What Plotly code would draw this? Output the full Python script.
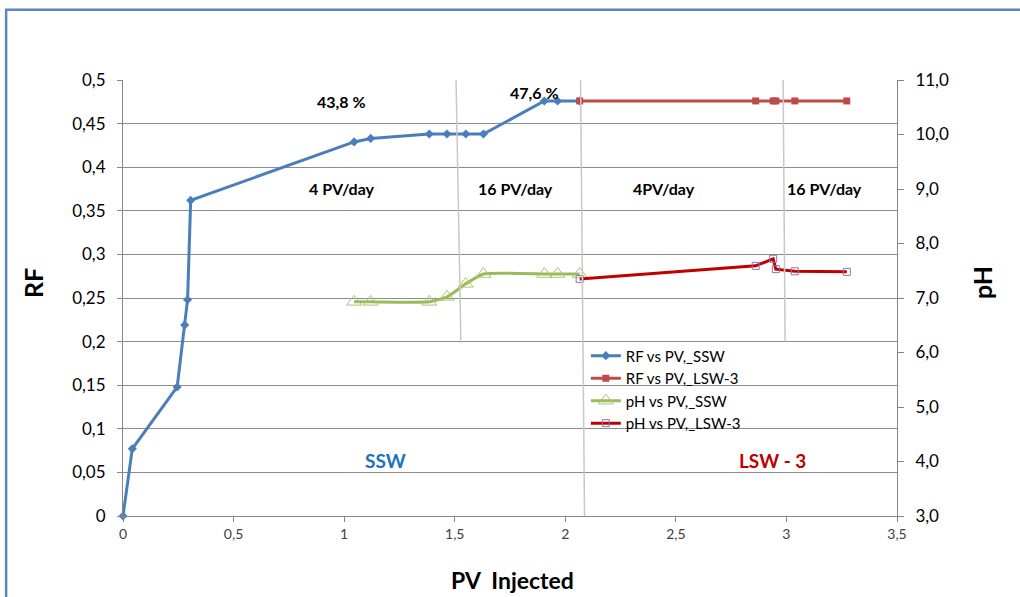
import plotly.graph_objects as go

# PV injected vs recovery factor (RF) and effluent pH, SSW then LSW-3 flooding
pv_ssw = [0, 0.042, 0.245, 0.279, 0.292, 0.306, 1.045, 1.12, 1.385, 1.465, 1.55, 1.63, 1.905, 1.965, 2.065]
rf_ssw = [0, 0.077, 0.148, 0.219, 0.248, 0.362, 0.429, 0.433, 0.438, 0.438, 0.438, 0.438, 0.476, 0.476, 0.476]

pv_lsw = [2.065, 2.861, 2.94, 2.952, 3.038, 3.273]
rf_lsw = [0.476, 0.476, 0.476, 0.476, 0.476, 0.476]

pv_ph_ssw = [1.045, 1.12, 1.385, 1.465, 1.55, 1.63, 1.905, 1.965, 2.065]
ph_ssw = [6.93, 6.93, 6.93, 7.02, 7.26, 7.44, 7.44, 7.44, 7.44]

pv_ph_lsw = [2.065, 2.861, 2.94, 2.952, 3.038, 3.273]
ph_lsw = [7.35, 7.59, 7.72, 7.53, 7.49, 7.48]

rf_ticks = [0, 0.05, 0.1, 0.15, 0.2, 0.25, 0.3, 0.35, 0.4, 0.45, 0.5]
rf_tick_text = ["0", "0,05", "0,1", "0,15", "0,2", "0,25", "0,3", "0,35", "0,4", "0,45", "0,5"]
ph_ticks = [3, 4, 5, 6, 7, 8, 9, 10, 11]
ph_tick_text = ["3,0", "4,0", "5,0", "6,0", "7,0", "8,0", "9,0", "10,0", "11,0"]
pv_ticks = [0, 0.5, 1, 1.5, 2, 2.5, 3, 3.5]
pv_tick_text = ["0", "0,5", "1", "1,5", "2", "2,5", "3", "3,5"]

# injection-rate stage boundaries (PV), drawn as thin slanted guide lines
stage_lines = [(1.506, 1.528, 0.198), (2.069, 2.087, 0.0), (2.985, 2.994, 0.2)]
rate_labels = [(0.99, "4 PV/day"), (1.777, "16 PV/day"), (2.446, "4PV/day"), (3.174, "16 PV/day")]

FONT = "Lato, 'Open Sans', sans-serif"
BLUE = "#4a7ebb"
RED = "#be4b48"
GREEN = "#9bbb59"
DARKRED = "#c00000"


def pct(v):
    return f"{v * 100:.1f}".replace(".", ",") + " %"


fig = go.Figure()
fig.add_trace(go.Scatter(
    x=pv_ssw, y=rf_ssw, name="RF vs PV,_SSW", mode="lines+markers",
    line=dict(color=BLUE, width=3),
    marker=dict(symbol="diamond", size=7, color=BLUE),
    cliponaxis=False, yaxis="y", legendgroup="a"))
fig.add_trace(go.Scatter(
    x=pv_lsw, y=rf_lsw, name="RF vs PV,_LSW-3", mode="lines+markers",
    line=dict(color=RED, width=3),
    marker=dict(symbol="square", size=7, color=RED),
    yaxis="y", legendgroup="b"))
fig.add_trace(go.Scatter(
    x=pv_ph_ssw, y=ph_ssw, name="pH vs PV,_SSW", mode="lines+markers",
    line=dict(color=GREEN, width=3, shape="spline", smoothing=0.5),
    marker=dict(symbol="triangle-up-open", size=13, color="#a9c66e", line=dict(width=1)),
    yaxis="y2", legendgroup="c"))
fig.add_trace(go.Scatter(
    x=pv_ph_lsw, y=ph_lsw, name="pH vs PV,_LSW-3", mode="lines+markers",
    line=dict(color=DARKRED, width=3),
    marker=dict(symbol="square-open", size=7, color="#8f74b0", line=dict(width=1)),
    yaxis="y2", legendgroup="d"))

shapes = []
for x0, x1, yb in stage_lines:
    shapes.append(dict(type="line", xref="x", yref="y", x0=x0, y0=0.5, x1=x1, y1=yb,
                       line=dict(color="#c8c8c8", width=1.5), layer="above"))
# outer chart frame
shapes.append(dict(type="rect", xref="paper", yref="paper", x0=-0.151, y0=-0.6, x1=1.6, y1=1.161,
                   line=dict(color="#5b86c0", width=2.5), layer="below"))

label_font = dict(family=FONT, size=16, color="black")
annotations = [
    dict(x=0.99, y=0.475, xref="x", yref="y", text=f"<b>{pct(rf_ssw[8])}</b>",
         showarrow=False, font=label_font),
    dict(x=1.859, y=0.486, xref="x", yref="y", text=f"<b>{pct(rf_ssw[12])}</b>",
         showarrow=False, font=label_font),
]
for x, t in rate_labels:
    annotations.append(dict(x=x, y=0.376, xref="x", yref="y", text=f"<b>{t}</b>",
                            showarrow=False, font=label_font))
annotations.append(dict(x=1.189, y=0.064, xref="x", yref="y", text="<b>SSW</b>", showarrow=False,
                        font=dict(family=FONT, size=19, color="#2170c0")))
annotations.append(dict(x=2.935, y=0.064, xref="x", yref="y", text="<b>LSW - 3</b>", showarrow=False,
                        font=dict(family=FONT, size=19, color=DARKRED)))
# axis titles
annotations.append(dict(x=-0.116, y=0.535, xref="paper", yref="paper", text="<b>RF</b>", showarrow=False,
                        xanchor="center", yanchor="middle", textangle=-90,
                        font=dict(family=FONT, size=25, color="black")))
annotations.append(dict(x=1.109, y=0.535, xref="paper", yref="paper", text="<b>pH</b>", showarrow=False,
                        xanchor="center", yanchor="middle", textangle=-90,
                        font=dict(family=FONT, size=25, color="black")))
annotations.append(dict(x=0.503, y=-0.147, xref="paper", yref="paper", text="<b>PV\u00a0 Injected</b>",
                        xanchor="center", yanchor="middle", showarrow=False,
                        font=dict(family=FONT, size=23, color="black")))

fig.update_layout(
    width=1020, height=597,
    margin=dict(l=123, r=123, t=80, b=81),
    paper_bgcolor="white", plot_bgcolor="white",
    font=dict(family=FONT, color="black"),
    showlegend=True,
    legend=dict(x=0.598, y=0.405, xanchor="left", yanchor="top",
                bgcolor="rgba(255,255,255,0)", font=dict(family=FONT, size=15, color="black"),
                tracegroupgap=0, itemwidth=30),
    xaxis=dict(range=[0, 3.5], tickvals=pv_ticks, ticktext=pv_tick_text,
               showgrid=False, zeroline=False, showline=True, linecolor="#868686", linewidth=1,
               ticks="outside", ticklen=5, tickcolor="#868686",
               tickfont=dict(family=FONT, size=14, color="#404040")),
    yaxis=dict(range=[0, 0.5], tickvals=rf_ticks, ticktext=rf_tick_text,
               showgrid=True, gridcolor="#8c8c8c", gridwidth=1, zeroline=False,
               showline=True, linecolor="#868686", linewidth=1,
               ticks="outside", ticklen=5, tickcolor="#868686", ticklabelstandoff=8,
               tickfont=dict(family=FONT, size=17, color="black")),
    yaxis2=dict(range=[3, 11], tickvals=ph_ticks, ticktext=ph_tick_text,
                overlaying="y", side="right", showgrid=False, zeroline=False,
                showline=True, linecolor="#868686", linewidth=1,
                ticks="outside", ticklen=6, tickcolor="#868686", ticklabelstandoff=8,
                tickfont=dict(family=FONT, size=17, color="black")),
    shapes=shapes, annotations=annotations,
)

fig.write_html("out.html")
